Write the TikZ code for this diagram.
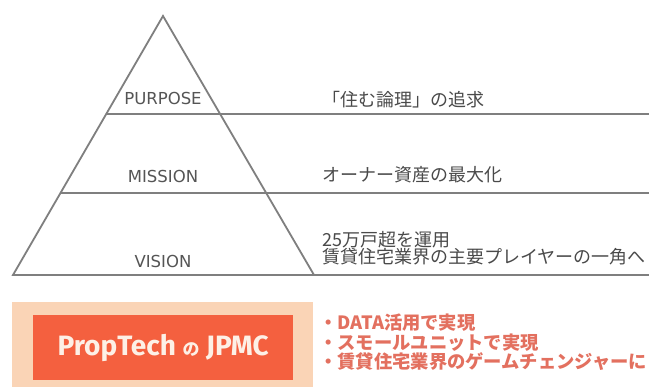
\documentclass[tikz,border=0pt]{standalone}
\usepackage{fontspec}
\setmainfont{DejaVu Sans}
\newfontfamily\jp{Noto Sans CJK JP}
\newfontfamily\fira{Fira Sans}
\usetikzlibrary{calc}
\definecolor{linegray}{HTML}{7F7F7F}
\definecolor{labgray}{HTML}{555555}
\definecolor{jpgray}{HTML}{4A4A4A}
\definecolor{peach}{HTML}{FAD4B6}
\definecolor{coral}{HTML}{F4603F}
\definecolor{boxtext}{HTML}{FDF0E6}
\definecolor{bullettext}{HTML}{E3705F}
\tikzset{
  pyr/.style={draw=linegray, line width=1.8pt, line join=miter},
  tier/.style={draw=linegray, line width=1.8pt},
  lab/.style={anchor=base, inner sep=0pt, text=labgray, font=\fontsize{16.5}{16.5}\selectfont},
  jptext/.style={anchor=base west, inner sep=0pt, text=jpgray, font=\jp\fontsize{18}{18}\selectfont},
  bullet/.style={anchor=base west, inner sep=0pt, text=bullettext, font=\jp\bfseries\fontsize{18.3}{18.3}\selectfont},
  peachbox/.style={fill=peach, draw=none, anchor=north west, inner sep=0pt},
  corebox/.style={fill=coral, draw=none, anchor=north west, inner sep=0pt},
}
\begin{document}
\begin{tikzpicture}[x=1pt,y=-1pt]
\useasboundingbox (0,0) rectangle (649,387);
\fill[white] (0,0) rectangle (649,387);
% pyramid
\coordinate (apex) at (163,16);
\coordinate (bl) at (13,275);
\coordinate (br) at (314,275);
\coordinate (p1) at ($(apex)!0.3784!(bl)$);
\coordinate (p1r) at (649,114);
\coordinate (p2) at ($(apex)!0.6834!(bl)$);
\coordinate (p2r) at (649,193);
\coordinate (p3r) at (649,275);
\draw[tier] (p1) -- (p1r);
\draw[tier] (p2) -- (p2r);
\draw[tier] (br) -- (p3r);
\draw[pyr] (apex) -- (bl) -- (br) -- cycle;
% tier labels
\node[lab] (purpose) at (163,105) {PURPOSE};
\node[lab] (mission) at (163,183) {MISSION};
\node[lab] (vision) at (163,268) {VISION};
% right texts
\node[jptext] (t1) at (322,106.5) {「住む論理」の追求};
\node[jptext] (t2) at (322,181.5) {オーナー資産の最大化};
\node[jptext] (t3) at (322,247) {25万戸超を運用};
\node[jptext] (t4) at (322,264) {賃貸住宅業界の主要プレイヤーの一角へ};
% bottom
\node[peachbox, minimum width=301pt, minimum height=85pt] (outer) at (12,302) {};
\node[corebox, minimum width=260pt, minimum height=65pt] (core) at (33,315) {};
\node[text=boxtext, font=\fira\bfseries\fontsize{28}{28}\selectfont, inner sep=0pt] (title) at (core.center)
  {PropTech {\jp\bfseries\fontsize{17}{17}\selectfont の} JPMC};
\node[bullet] (b1) at (319,330) {・DATA活用で実現};
\node[bullet] (b2) at (319,349.5) {・スモールユニットで実現};
\node[bullet] (b3) at (319,369) {・賃貸住宅業界のゲームチェンジャーに};
\end{tikzpicture}
\end{document}
